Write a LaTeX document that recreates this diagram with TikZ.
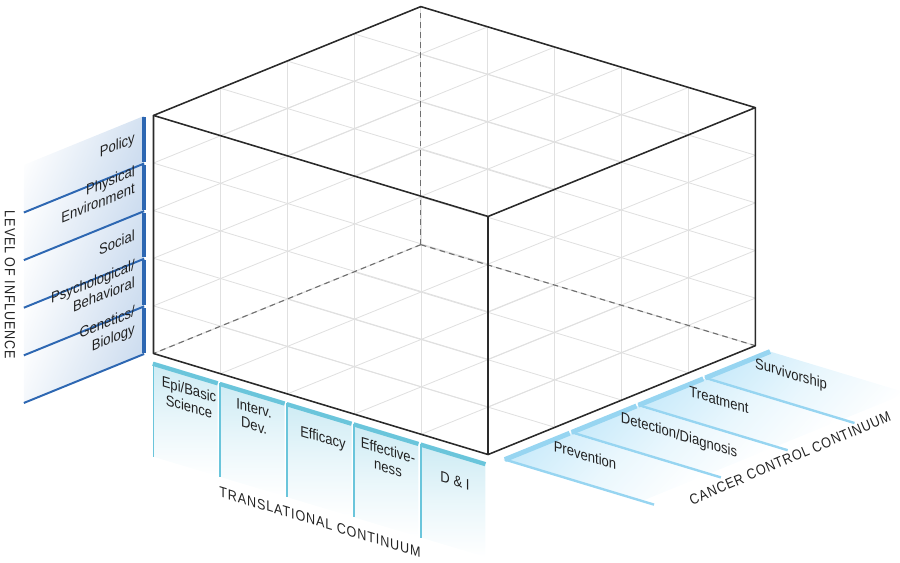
\documentclass[tikz,border=0pt]{standalone}
\usepackage{fontspec}
\usetikzlibrary{fadings}
\setmainfont{Liberation Sans}[FakeStretch=0.86]
\newfontfamily\capsfont{Liberation Sans}[FakeStretch=0.86,LetterSpace=6]

\definecolor{edgegray}{HTML}{2A2A2A}
\definecolor{gridgray}{HTML}{E0E0E0}
\definecolor{dashgray}{HTML}{707070}
\definecolor{infblue}{HTML}{2D67B2}
\definecolor{infpanel}{HTML}{C9DAEE}
\definecolor{transcyan}{HTML}{6AC5DB}
\definecolor{transpanel}{HTML}{CDEBF4}
\definecolor{ccblue}{HTML}{97D5F1}
\definecolor{ccpanel}{HTML}{C8EAFA}
\definecolor{txtgray}{HTML}{222222}

\tikzfading[name=fadesouth, top color=transparent!0, bottom color=transparent!100, middle color=transparent!55]
\tikzfading[name=fadeeast, left color=transparent!0, right color=transparent!100, middle color=transparent!60]
\tikzfading[name=fadewest, left color=transparent!100, right color=transparent!0]

\tikzset{
  gridline/.style={draw=gridgray, line width=0.6pt},
  cubeedge/.style={draw=edgegray, line width=1.1pt, line join=round},
  hiddenedge/.style={draw=dashgray, line width=0.8pt, dash pattern=on 4pt off 3pt},
  lbl/.style={font=\fontsize{10.8}{12.4}\selectfont, text=txtgray, inner sep=0pt},
  axislbl/.style={font=\capsfont\fontsize{10.4}{12}\selectfont, text=txtgray, inner sep=0pt},
  infbar/.style={draw=infblue, line width=3pt},
  infline/.style={draw=infblue, line width=1.4pt},
  transbar/.style={draw=transcyan, line width=3pt},
  transline/.style={draw=transcyan, line width=1.4pt},
  ccbar/.style={draw=ccblue, line width=3.5pt},
  ccline/.style={draw=ccblue, line width=1.7pt}
}

\begin{document}
\begin{tikzpicture}[x=0.025cm,y=-0.025cm]
\useasboundingbox (0,0) rectangle (900,563);

% cube and panels in box coordinates
\begin{scope}[shift={(153.5,353.5)}, x={(1.6725cm,-0.505cm)}, y={(1.67cm,0.68cm)}, z={(0cm,1.19cm)}]
  % level of influence panels
  \foreach \k in {0,...,4}{
    \fill[infpanel, path fading=fadewest, fading angle=-20] (-0.07,-0.07,\k) -- (-0.07,-0.07,\k+1) -- (-0.07,-1.87,\k+1) -- (-0.07,-1.87,\k) -- cycle;
  }
  \foreach \k in {0,...,4}{
    \draw[infbar] (-0.07,-0.07,\k+0.03) -- (-0.07,-0.07,\k+0.97);
    \draw[infline] (-0.07,-0.07,\k) -- (-0.07,-1.87,\k);
  }
  % translational panels
  \foreach \k in {0,...,4}{
    \fill[transpanel, path fading=fadesouth] (\k,0,-0.17) -- (\k+0.96,0,-0.17) -- (\k+0.96,0,-2.17) -- (\k,0,-2.17) -- cycle;
    \draw[transline] (\k,0,-0.2) -- (\k,0,-2.17);
    \draw[transbar] (\k-0.01,0,-0.22) -- (\k+0.96,0,-0.22);
  }
  % cancer control panels
  \foreach \j in {0,...,3}{
    \fill[ccpanel, path fading=fadeeast, fading angle=-17] (5.23,\j,0) -- (5.23,\j+0.97,0) -- (7.3,\j+0.97,0) -- (7.3,\j,0) -- cycle;
    \draw[ccline] (5.25,\j,0) -- (7.48,\j,0);
    \draw[ccbar] (5.25,\j,0) -- (5.25,\j+0.97,0);
  }

  % grid on the six faces
  \foreach \i in {0,...,5}{
    \draw[gridline] (\i,0,0) -- (\i,4,0);
    \draw[gridline] (\i,0,5) -- (\i,4,5);
    \draw[gridline] (\i,0,0) -- (\i,0,5);
    \draw[gridline] (\i,4,0) -- (\i,4,5);
  }
  \foreach \j in {0,...,4}{
    \draw[gridline] (0,\j,0) -- (5,\j,0);
    \draw[gridline] (0,\j,5) -- (5,\j,5);
    \draw[gridline] (0,\j,0) -- (0,\j,5);
    \draw[gridline] (5,\j,0) -- (5,\j,5);
  }
  \foreach \k in {0,...,5}{
    \draw[gridline] (0,0,\k) -- (5,0,\k);
    \draw[gridline] (0,4,\k) -- (5,4,\k);
    \draw[gridline] (0,0,\k) -- (0,4,\k);
    \draw[gridline] (5,0,\k) -- (5,4,\k);
  }

  \coordinate (E) at (0,0,0);
  \coordinate (F) at (5,0,0);
  \coordinate (G) at (5,4,0);
  \coordinate (H) at (0,4,0);
  \coordinate (A) at (0,0,5);
  \coordinate (D) at (5,0,5);
  \coordinate (C) at (5,4,5);
  \coordinate (B) at (0,4,5);

  \draw[hiddenedge] (H) -- (E);
  \draw[hiddenedge] (H) -- (G);
  \draw[hiddenedge] (H) -- (B);
  \draw[cubeedge] (A) -- (B) -- (C) -- (D) -- cycle;
  \draw[cubeedge] (A) -- (E) -- (F) -- (G) -- (C);
  \draw[cubeedge] (D) -- (F);
\end{scope}

% level of influence
\node[lbl, align=right, anchor=east, yslant=0.407] (policy) at (135,139) {Policy};
\node[lbl, align=right, anchor=east, yslant=0.407] (physenv) at (135,179) {Physical\\Environment};
\node[lbl, align=right, anchor=east, yslant=0.407] (social) at (135,235) {Social};
\node[lbl, align=right, anchor=east, yslant=0.407] (psych) at (135,273) {Psychological/\\Behavioral};
\node[lbl, align=right, anchor=east, yslant=0.407] (genetics) at (135,321) {Genetics/\\Biology};
\node[axislbl, rotate=-90] (levelinf) at (10,285) {LEVEL OF INFLUENCE};

% translational continuum
\node[lbl, align=center, yslant=-0.302] (epi) at (189,398) {Epi/Basic\\Science};
\node[lbl, align=center, yslant=-0.302] (interv) at (254,417) {Interv.\\Dev.};
\node[lbl, align=center, yslant=-0.302] (efficacy) at (323,439) {Efficacy};
\node[lbl, align=center, yslant=-0.302] (effectiveness) at (388,459) {Effective-\\ness};
\node[lbl, align=center, yslant=-0.302] (dandi) at (455,481) {D \& I};
\node[axislbl, yslant=-0.302] (transcont) at (320,522) {TRANSLATIONAL CONTINUUM};

% cancer control continuum
\node[lbl, yslant=-0.302] (prevention) at (585,455) {Prevention};
\node[lbl, yslant=-0.302] (detection) at (679,436) {Detection/Diagnosis};
\node[lbl, yslant=-0.302] (treatment) at (719,400) {Treatment};
\node[lbl, yslant=-0.302] (survivorship) at (791,375) {Survivorship};
\node[axislbl, rotate=23] (cccont) at (790,458) {CANCER CONTROL CONTINUUM};
\end{tikzpicture}
\end{document}
